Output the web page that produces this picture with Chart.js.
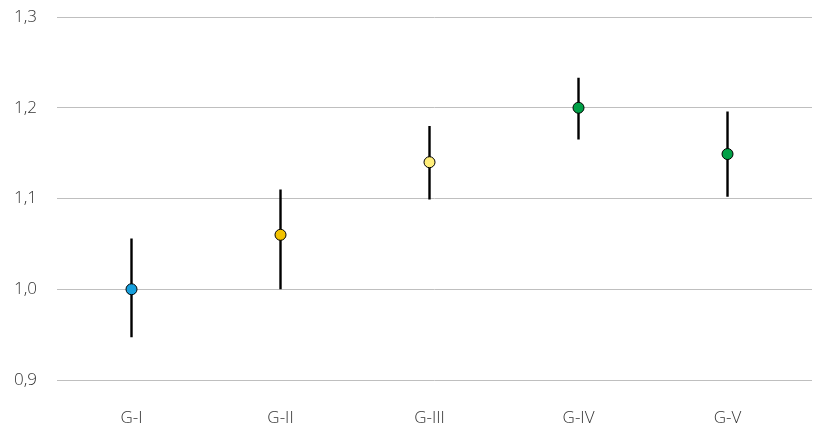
<!DOCTYPE html>
<html>
<head>
<meta charset="utf-8">
<script src="https://cdn.jsdelivr.net/npm/chart.js@4/dist/chart.umd.min.js"></script>
<style>
  html, body { margin: 0; padding: 0; background: #ffffff; overflow: hidden; }
  canvas { display: block; }
</style>
</head>
<body>
<canvas id="chart" width="813" height="426"></canvas>
<script>
// Groups along the horizontal axis
const groups = ['G-I', 'G-II', 'G-III', 'G-IV', 'G-V'];
// Mean value per group
const means = [1.0, 1.06, 1.14, 1.2, 1.149];
// Lower and upper ends of each interval
const lows = [0.947, 1.0, 1.099, 1.165, 1.102];
const highs = [1.056, 1.11, 1.18, 1.233, 1.196];
// Marker fill colour per group
const markerColors = ['#169FDD', '#F2C200', '#FFEE7A', '#00A046', '#00A046'];
// Value axis ticks
const yTicks = [0.9, 1.0, 1.1, 1.2, 1.3];

// Interval whiskers: one broken line, split by null points
const whiskers = [];
groups.forEach((g, i) => {
  whiskers.push({ x: i, y: lows[i] });
  whiskers.push({ x: i, y: highs[i] });
  whiskers.push({ x: i, y: null });
});

const tickFont = { family: "'Open Sans', 'DejaVu Sans', sans-serif", size: 17, weight: '300' };

new Chart(document.getElementById('chart'), {
  type: 'scatter',
  data: {
    datasets: [
      {
        label: 'mean',
        data: means.map((v, i) => ({ x: i, y: v })),
        pointRadius: 5.5,
        pointBorderWidth: 1,
        pointBorderColor: '#000000',
        pointBackgroundColor: markerColors,
        showLine: false,
        order: 0
      },
      {
        label: 'interval',
        data: whiskers,
        showLine: true,
        spanGaps: false,
        borderColor: '#000000',
        borderWidth: 2.4,
        pointRadius: 0,
        order: 1
      }
    ]
  },
  options: {
    responsive: false,
    devicePixelRatio: 1,
    animation: false,
    layout: { autoPadding: false, padding: { top: 17, right: 1, left: 10, bottom: 0 } },
    plugins: { legend: { display: false }, tooltip: { enabled: false } },
    scales: {
      x: {
        type: 'linear',
        min: -0.5,
        max: 4.567,
        grid: { display: false, drawTicks: false },
        border: { display: false },
        afterBuildTicks: (axis) => { axis.ticks = groups.map((g, i) => ({ value: i })); },
        afterFit: (axis) => { axis.height = 46; },
        ticks: {
          padding: 28,
          color: '#333333',
          font: tickFont,
          callback: (v) => groups[v] ?? ''
        }
      },
      y: {
        min: 0.9,
        max: 1.3,
        grid: { color: '#BFBFBF', lineWidth: 1, drawTicks: false },
        border: { display: false },
        afterBuildTicks: (axis) => { axis.ticks = yTicks.map(v => ({ value: v })); },
        afterFit: (axis) => { axis.width = 47; axis.paddingTop = 0; axis.paddingBottom = 0; },
        ticks: {
          padding: 20,
          color: '#333333',
          font: tickFont,
          callback: (v) => v.toFixed(1).replace('.', ',')
        }
      }
    }
  }
});
</script>
</body>
</html>
